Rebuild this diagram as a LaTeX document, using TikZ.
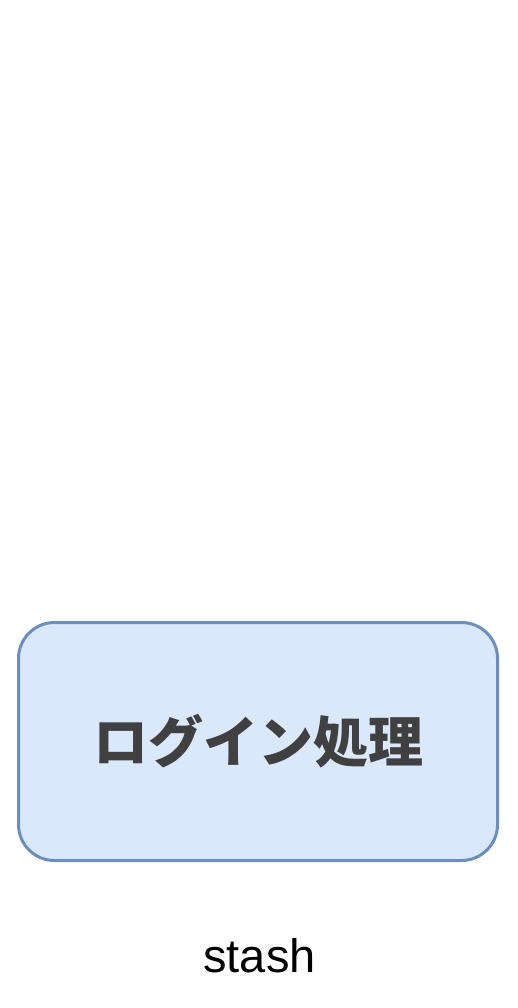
\documentclass[tikz,border=0pt]{standalone}
\usepackage{fontspec}
\setmainfont{Liberation Sans}
\newfontfamily\cjk{Noto Sans CJK JP}
\definecolor{boxfill}{HTML}{DAE8FC}
\definecolor{boxline}{HTML}{6C8EBF}
\definecolor{boxtext}{HTML}{404040}
\begin{document}
\begin{tikzpicture}[x=1pt,y=-1pt]
\useasboundingbox (0,0) rectangle (518,1008);
\node[draw=boxline,fill=boxfill,line width=3pt,rounded corners=36pt,
  minimum width=479pt,minimum height=238pt,text=boxtext,
  font=\cjk\bfseries\fontsize{55}{60}\selectfont] (login) at (258,741.5) {ログイン処理};
\node[anchor=base,font=\fontsize{47}{54}\selectfont] (stash) at (259.5,972) {stash};
\end{tikzpicture}
\end{document}
